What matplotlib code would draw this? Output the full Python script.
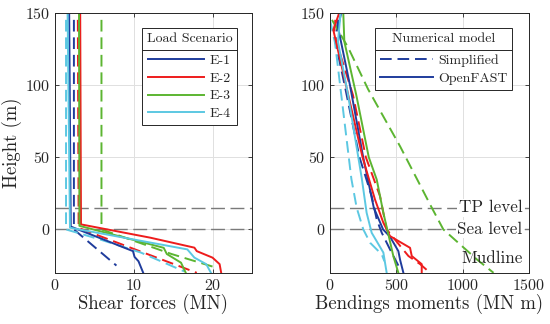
import matplotlib
matplotlib.use("Agg")
import matplotlib.pyplot as plt
from matplotlib.lines import Line2D

plt.rcParams['font.family'] = 'cmr10'
plt.rcParams['mathtext.fontset'] = 'cm'
plt.rcParams['axes.formatter.use_mathtext'] = True

# ---- data ----
scenarios = ['E-1', 'E-2', 'E-3', 'E-4']
colors = ['#1f3c9c', '#ee1c1c', '#5cb531', '#5cc8e2']

# shear forces (MN), OpenFAST (solid)
shear_of_y = [
    [150, 2, -15, -19, -22, -30],
    [150, 3.5, -5.7, -12.6, -15, -19.5, -24, -30],
    [150, 2.5, -12.7, -17, -23, -30],
    [150, 1.2, -13.8, -19.5, -24, -30],
]
shear_of_x = [
    [1.8, 2.0, 9.9, 10.1, 10.6, 11.2],
    [3.2, 3.3, 12.1, 17.7, 18.0, 20.0, 20.9, 21.1],
    [3.05, 3.1, 13.8, 14.2, 16.0, 16.6],
    [1.6, 1.9, 16.8, 17.7, 19.2, 19.8],
]
# shear forces (MN), simplified (dashed)
shear_si_y = [
    [145, 0, -25],
    [145, 1, -30],
    [145, 0, -17, -26],
    [145, 0, -6.9, -16, -29],
]
shear_si_x = [
    [2.4, 2.4, 7.8],
    [2.9, 3.0, 18.0],
    [5.9, 5.9, 14.8, 20.2],
    [1.4, 1.4, 5.7, 10.9, 16.4],
]

# bending moments (MN m), OpenFAST (solid)
moment_of_y = [
    [150, 140, 100, 50, 15, 0, -5, -15, -21, -30],
    [150, 138, 100, 50, 20.7, 4.6, -4.6, -12.7, -18.4, -24, -30],
    [150, 130, 93, 50, 34.5, 11.5, -3.5, -18.4, -30],
    [150, 130, 93, 35, 11.5, -2.3, -16, -30],
]
moment_of_x = [
    [85, 60, 150, 250, 330, 400, 452, 515, 528, 553],
    [70, 25, 120, 245, 339, 402, 452, 603, 616, 691, 691],
    [100, 108, 198, 292, 352, 402, 440, 477, 515],
    [80, 60, 136, 240, 276, 314, 402, 427],
]
# bending moments (MN m), simplified (dashed)
moment_si_y = [
    [145, 130, 100, 50, 23, 6.9, -2.3, -13.8, -25],
    [145, 135, 93, 50, 23, 0, -18.4, -24, -30],
    [145, 126, 97, 57.5, 15, 0, -20.7, -30],
    [145, 129, 93, 35, 15, 0, -9.2, -17.3, -22],
]
moment_si_x = [
    [60, 40, 110, 222, 314, 352, 390, 452, 515],
    [40, 30, 173, 270, 377, 427, 591, 679, 754],
    [15, 136, 287, 528, 767, 854, 1106, 1232],
    [0, 38, 85, 161, 201, 251, 302, 390, 410],
]

levels = [15, 0]
level_names = ['TP level', 'Sea level']
mudline_y = -20

txt = '#262626'
fig = plt.figure(figsize=(5.5, 3.24), dpi=100)
ax1 = fig.add_axes([0.1, 0.158, 0.358, 0.803])
ax2 = fig.add_axes([0.6, 0.158, 0.362, 0.803])

lw = 1.4
for ax in (ax1, ax2):
    ax.set_ylim(-30, 150)
    ax.set_yticks([0, 50, 100, 150])
    ax.grid(True, color='#e0e0e0', linewidth=0.7, zorder=0)
    ax.set_axisbelow(True)
    ax.tick_params(direction='in', top=True, right=True, labelsize=11.5,
                   colors=txt, length=3, width=0.6)
    for s in ax.spines.values():
        s.set_color(txt)
        s.set_linewidth(0.7)
    for lv in levels:
        ax.axhline(lv, color='#7a7a7a', linewidth=1.0, dashes=(10, 4), zorder=1.5)

# left panel: shear forces
for i in range(4):
    ax1.plot(shear_si_x[i], shear_si_y[i], color=colors[i], lw=lw, dashes=(6, 3), zorder=2)
for i in range(4):
    ax1.plot(shear_of_x[i], shear_of_y[i], color=colors[i], lw=lw, zorder=2.5,
             label=scenarios[i])
ax1.set_xlim(0, 25)
ax1.set_xticks([0, 10, 20])
ax1.set_xlabel('Shear forces (MN)', fontsize=13.5, color=txt, labelpad=1)
ax1.set_ylabel('Height (m)', fontsize=13.5, color=txt, labelpad=2)

# right panel: bending moments
for i in range(4):
    ax2.plot(moment_si_x[i], moment_si_y[i], color=colors[i], lw=lw, dashes=(6, 3), zorder=2)
for i in range(4):
    ax2.plot(moment_of_x[i], moment_of_y[i], color=colors[i], lw=lw, zorder=2.5)
ax2.set_xlim(0, 1500)
ax2.set_xticks([0, 500, 1000, 1500])
ax2.set_xlabel('Bendings moments (MN m)', fontsize=13.5, color=txt, labelpad=1)

for lv, name in zip(levels, level_names):
    ax2.text(1450, lv, name, ha='right', va='center', fontsize=12.3, color=txt,
             zorder=4, bbox=dict(facecolor='white', edgecolor='none', pad=1.0))
ax2.text(1450, mudline_y, 'Mudline', ha='right', va='center', fontsize=12.3,
         color=txt, zorder=4)

# legends
leg_kw = dict(fontsize=10, title_fontsize=10, fancybox=False, framealpha=1,
              edgecolor=txt, handletextpad=0.4, borderaxespad=0,
              labelspacing=0.36, borderpad=0.35)
leg1 = ax1.legend(loc='upper right', bbox_to_anchor=(0.925, 0.94), title='Load Scenario',
                  handlelength=4.0, **leg_kw)
handles2 = [Line2D([], [], color=colors[0], lw=lw, dashes=(6, 3)),
            Line2D([], [], color=colors[0], lw=lw)]
leg2 = ax2.legend(handles2, ['Simplified', 'OpenFAST'], loc='upper right',
                  bbox_to_anchor=(0.916, 0.94), title='Numerical model',
                  handlelength=3.8, **leg_kw)
title_gap = 6.5  # points between title and entries
for leg in (leg1, leg2):
    leg.get_frame().set_linewidth(0.7)
    for t in leg.get_texts():
        t.set_color(txt)
    leg.get_title().set_color(txt)
    leg._legend_box.sep = title_gap

# separator line under each legend title
fig.canvas.draw()
inv = fig.transFigure.inverted()
gap_px = title_gap * fig.dpi / 72
for leg in (leg1, leg2):
    fb = leg.get_frame().get_window_extent()
    tb = leg.get_title().get_window_extent()
    ysep = tb.y0 - gap_px / 2
    (x0, y0), (x1, y1) = inv.transform([(fb.x0, ysep), (fb.x1, ysep)])
    fig.add_artist(Line2D([x0, x1], [y0, y1], color=txt, lw=0.7))

fig.savefig('out.png', dpi=100)
